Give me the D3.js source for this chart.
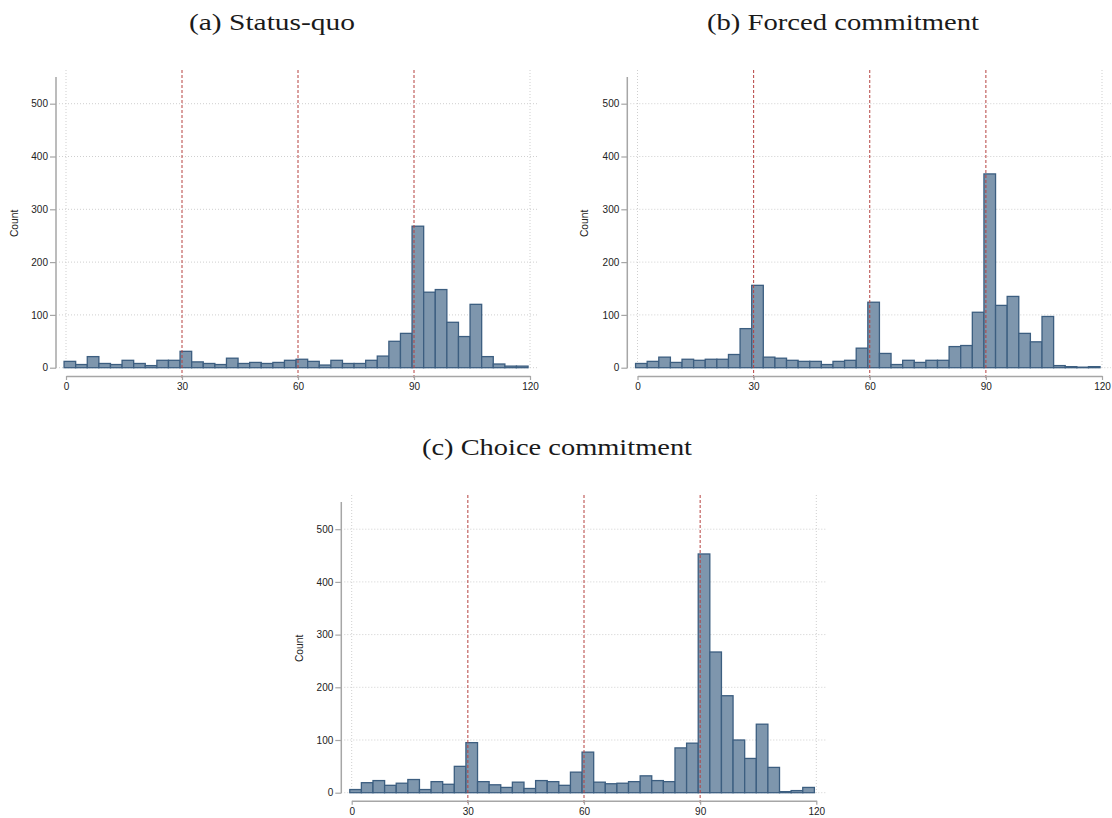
<!DOCTYPE html>
<html>
<head>
<meta charset="utf-8">
<script src="https://cdn.jsdelivr.net/npm/d3@7"></script>
<style>
  html, body { margin: 0; padding: 0; background: #ffffff; }
  svg { display: block; }
</style>
</head>
<body>
<svg id="chart" width="1112" height="818"></svg>
<script>
// ---- Data (histogram counts, 40 bins of width 3 starting at -0.5) ----
const binStart = -0.5;
const binWidth = 3;
const statusQuo = [12,6,21,8,6,14,8,4,14,14,31,11,8,6,18,8,10,8,10,14,16,12,5,14,8,8,14,22,50,65,268,143,148,86,59,120,21,7,3,3];
const forcedCommitment = [8,12,20,10,16,14,16,16,25,74,156,20,18,14,12,12,6,12,14,37,124,27,6,14,10,14,14,40,42,105,367,118,135,65,49,97,4,2,1,2];
const choiceCommitment = [6,19,23,14,18,25,6,21,16,50,95,21,15,10,20,8,23,21,14,39,77,20,17,18,21,32,23,21,85,94,453,267,184,100,65,130,48,2,4,10];
const panelTitles = ["(a) Status-quo", "(b) Forced commitment", "(c) Choice commitment"];
const xTicks = [0, 30, 60, 90, 120];
const yTicks = [0, 100, 200, 300, 400, 500];
const refLines = [30, 60, 90];
const yLabel = "Count";

// ---- Layout ----
const panels = [
  { title: panelTitles[0], data: statusQuo, x0: 66, x1: 530, yZero: 367.7, y500: 103.7, axisTop: 77, gridTop: 70, axisX: 56, xAxisY: 376, titleX: 272, titleY: 30, titleLen: 166, labelX: 15 },
  { title: panelTitles[1], data: forcedCommitment, x0: 637.5, x1: 1102, yZero: 367.7, y500: 103.7, axisTop: 77, gridTop: 70, axisX: 627.3, xAxisY: 376, titleX: 843, titleY: 30, titleLen: 272, labelX: 585 },
  { title: panelTitles[2], data: choiceCommitment, x0: 351.7, x1: 816.3, yZero: 792.7, y500: 529.2, axisTop: 502, gridTop: 495, axisX: 341.3, xAxisY: 800.7, titleX: 557, titleY: 455, titleLen: 270, labelX: 300 }
];

const svg = d3.select("#chart");
const fillColor = "#7e96ad";
const strokeColor = "#3c5e80";
const refColor = "#b5413f";
const gridColor = "#cfcfcf";
const axisColor = "#a6a6a6";
const tickFont = "'Liberation Sans', Arial, sans-serif";

panels.forEach(p => {
  const x = d3.scaleLinear().domain([0, 120]).range([p.x0, p.x1]);
  const y = d3.scaleLinear().domain([0, 500]).range([p.yZero, p.y500]);
  const g = svg.append("g");

  // title
  g.append("text")
    .attr("x", p.titleX).attr("y", p.titleY)
    .attr("text-anchor", "middle")
    .attr("font-family", "'Liberation Serif', 'DejaVu Serif', serif")
    .attr("font-size", 23)
    .attr("fill", "#1a1a1a")
    .attr("textLength", p.titleLen)
    .attr("lengthAdjust", "spacingAndGlyphs")
    .text(p.title);

  // horizontal gridlines
  g.selectAll(".hgrid").data(yTicks).join("line")
    .attr("x1", p.axisX + 3).attr("x2", x(120) + 9)
    .attr("y1", d => y(d)).attr("y2", d => y(d))
    .attr("stroke", gridColor).attr("stroke-width", 1)
    .attr("stroke-dasharray", "1,2");

  // vertical gridlines at ends
  g.selectAll(".vgrid").data([0, 120]).join("line")
    .attr("x1", d => x(d)).attr("x2", d => x(d))
    .attr("y1", p.gridTop).attr("y2", y(0))
    .attr("stroke", gridColor).attr("stroke-width", 1)
    .attr("stroke-dasharray", "1,2");

  // bars
  const bins = p.data.map((v, i) => ({ a: binStart + i * binWidth, b: binStart + (i + 1) * binWidth, v }));
  g.selectAll(".bar").data(bins).join("rect")
    .attr("x", d => x(d.a))
    .attr("width", d => x(d.b) - x(d.a))
    .attr("y", d => y(d.v))
    .attr("height", d => y(0) - y(d.v))
    .attr("fill", fillColor)
    .attr("stroke", strokeColor)
    .attr("stroke-width", 1.3);

  // reference lines
  g.selectAll(".ref").data(refLines).join("line")
    .attr("x1", d => x(d)).attr("x2", d => x(d))
    .attr("y1", p.gridTop).attr("y2", p.xAxisY + 3)
    .attr("stroke", refColor).attr("stroke-width", 1)
    .attr("stroke-dasharray", "3,2");

  // y axis
  const yAxis = d3.axisLeft(y).tickValues(yTicks).tickSize(6).tickPadding(2).tickSizeOuter(0);
  const ya = g.append("g").attr("transform", `translate(${p.axisX},0)`).call(yAxis);
  ya.select(".domain").attr("d", `M0,${p.axisTop}V${y(0) + 0.5}`).attr("stroke", axisColor).attr("stroke-width", 1.5);
  ya.selectAll(".tick line").attr("stroke", axisColor).attr("stroke-width", 1.2);
  ya.selectAll(".tick text").attr("font-family", tickFont).attr("font-size", 10).attr("fill", "#222");

  // x axis
  const xAxis = d3.axisBottom(x).tickValues(xTicks).tickSize(4).tickPadding(3).tickSizeOuter(0);
  const xa = g.append("g").attr("transform", `translate(0,${p.xAxisY})`).call(xAxis);
  xa.select(".domain").attr("stroke", axisColor).attr("stroke-width", 1.5);
  xa.selectAll(".tick line").attr("stroke", axisColor).attr("stroke-width", 1.2);
  xa.selectAll(".tick text").attr("font-family", tickFont).attr("font-size", 10).attr("fill", "#222");

  // y label
  g.append("text")
    .attr("transform", `translate(${p.labelX},${(p.axisTop + y(0)) / 2 + 1}) rotate(-90)`)
    .attr("text-anchor", "middle")
    .attr("dominant-baseline", "middle")
    .attr("font-family", tickFont)
    .attr("font-size", 10.3)
    .attr("fill", "#222")
    .text(yLabel);
});
</script>
</body>
</html>
